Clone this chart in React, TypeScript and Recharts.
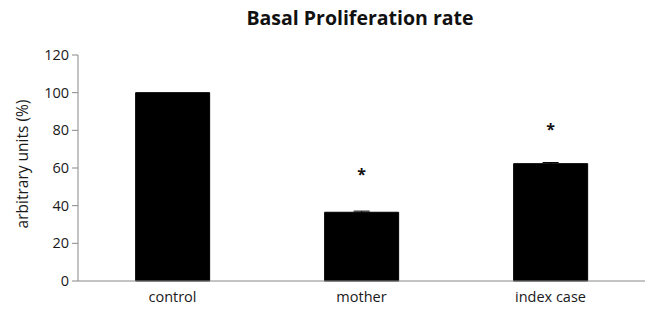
import React from "react";
import { ComposedChart, Bar, XAxis, YAxis, Scatter, ErrorBar } from "recharts";

const categories = ["control", "mother", "index case"];
const values = [100, 36.5, 62.3];
const errors = [0, 0.6, 0.6];
const stars = [null, 57.3, 81.2];
const yTicks = [0, 20, 40, 60, 80, 100, 120];

const data = categories.map((c, i) => ({
  name: c,
  value: values[i],
  err: errors[i],
  star: stars[i],
  idx: i,
}));

const FONT = "'Open Sans', sans-serif";

const Star = (props: any) => {
  const { cx, cy } = props;
  if (cx == null || cy == null) return null;
  return (
    <text x={cx} y={cy + 7} textAnchor="middle" fontSize={16} fontWeight="bold" fontFamily={FONT} fill="#111">
      *
    </text>
  );
};

export default function App() {
  return (
    <div style={{ position: "absolute", left: 0, top: 0, width: 654, height: 309, background: "#fff" }}>
      <div
        style={{
          position: "absolute",
          left: 0,
          width: 720,
          top: 4,
          textAlign: "center",
          fontFamily: FONT,
          fontWeight: "bold",
          fontSize: 19.5,
          color: "#111",
        }}
      >
        Basal Proliferation rate
      </div>
      <ComposedChart
        width={654}
        height={309}
        data={data}
        margin={{ top: 55, right: 9, bottom: 6, left: 30 }}
        barCategoryGap="30.5%"
      >
        <XAxis
          xAxisId="grid"
          type="number"
          dataKey="idx"
          domain={[0, 3]}
          ticks={[0, 1, 2, 3]}
          tick={false}
          axisLine={false}
          tickLine={{ stroke: "#888" }}
          tickSize={5}
          height={0}
        />
        <XAxis
          dataKey="name"
          tickLine={false}
          axisLine={{ stroke: "#888" }}
          tick={{ fill: "#1a1a1a", fontSize: 14.5, fontFamily: FONT }}
          tickMargin={5}
          height={22}
          interval={0}
        />
        <YAxis
          domain={[0, 120]}
          ticks={yTicks}
          width={48}
          axisLine={{ stroke: "#888" }}
          tickLine={{ stroke: "#888" }}
          tickSize={6}
          tickMargin={3}
          tick={{ fill: "#1a1a1a", fontSize: 14.5, fontFamily: FONT }}
          label={{
            value: "arbitrary units (%)",
            angle: -90,
            position: "insideLeft",
            offset: 0,
            dx: -8,
            dy: -4,
            style: { textAnchor: "middle", fill: "#1a1a1a", fontSize: 15.5, fontFamily: FONT },
          }}
        />
        <Bar dataKey="value" fill="#000" stroke="#000" isAnimationActive={false}>
          <ErrorBar dataKey="err" width={8} stroke="#000" strokeWidth={1} direction="y" />
        </Bar>
        <Scatter dataKey="star" shape={<Star />} isAnimationActive={false} />
      </ComposedChart>
    </div>
  );
}
